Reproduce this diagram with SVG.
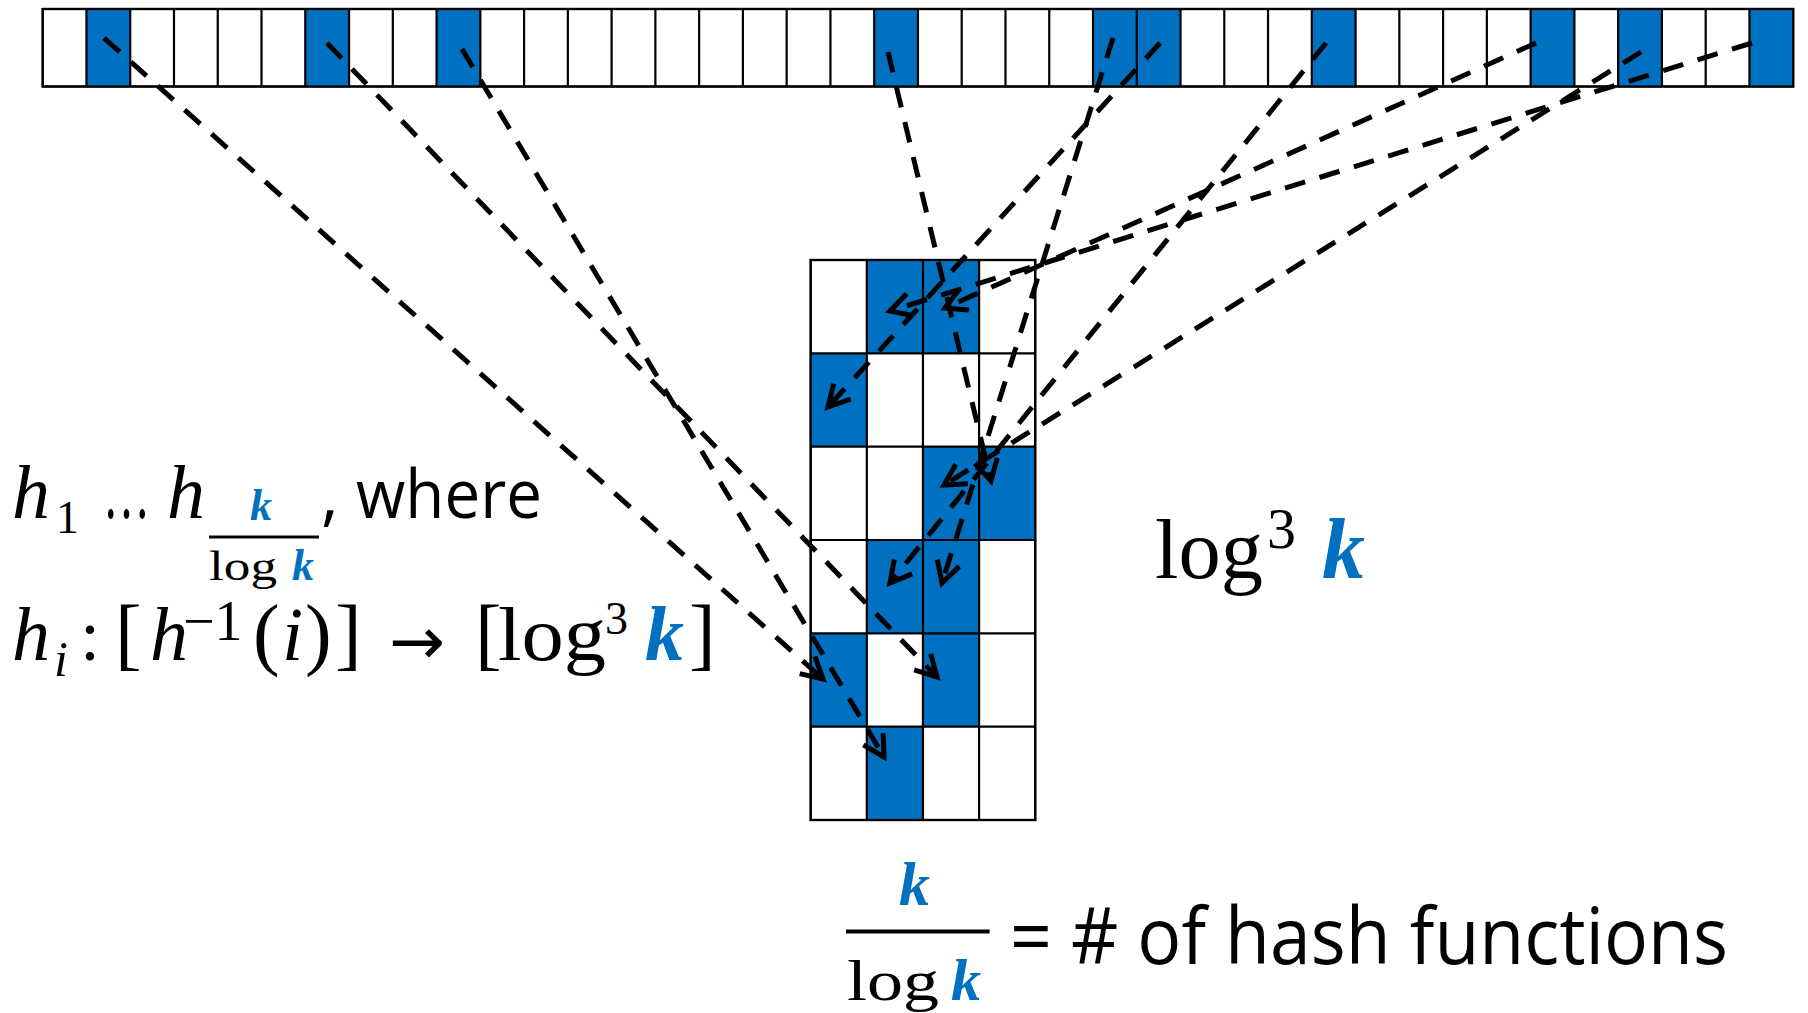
<svg xmlns="http://www.w3.org/2000/svg" width="1808" height="1013" viewBox="0 0 1808 1013">
  <style>
    .cell { fill: #ffffff; stroke: #000000; stroke-width: 2.2; }
    .hit { fill: #0070C0; stroke: none; }
    .rule { fill: none; stroke: #000000; stroke-width: 2.2; }
    .link { fill: none; stroke: #000000; stroke-width: 5; stroke-dasharray: 21 15; marker-end: url(#open); }
    .m { font-family: "Liberation Serif", "DejaVu Serif", serif; fill: #000000; }
    .it { font-style: italic; }
    .kb { fill: #0070C0; font-weight: bold; font-style: italic; }
    .s { font-family: "Open Sans", "Noto Sans", sans-serif; fill: #000000; }
    .arr { font-family: "DejaVu Sans", sans-serif; fill: #000000; }
    .bar { stroke: #000000; }
  </style>
  <defs>
    <marker id="open" markerUnits="userSpaceOnUse" markerWidth="50" markerHeight="50" viewBox="-35 -25 50 50" refX="0" refY="0" orient="auto" overflow="visible">
      <path d="M-21,-11.5 L0,0 L-21,11.5" fill="none" stroke="#000000" stroke-width="5" stroke-dasharray="none" stroke-linejoin="miter"/>
    </marker>
  </defs>
  <rect width="1808" height="1013" fill="#ffffff"/>

  <!-- top bit array: 40 slots, 10 of them set -->
  <g id="bit-array">
    <rect class="cell" x="42.7" y="9" width="1750.5" height="77.5"/>
    <rect class="hit" x="86.46" y="9" width="43.76" height="77.5"/>
    <rect class="hit" x="305.28" y="9" width="43.76" height="77.5"/>
    <rect class="hit" x="436.56" y="9" width="43.76" height="77.5"/>
    <rect class="hit" x="874.19" y="9" width="43.76" height="77.5"/>
    <rect class="hit" x="1093.0" y="9" width="43.76" height="77.5"/>
    <rect class="hit" x="1136.76" y="9" width="43.76" height="77.5"/>
    <rect class="hit" x="1311.81" y="9" width="43.76" height="77.5"/>
    <rect class="hit" x="1530.63" y="9" width="43.76" height="77.5"/>
    <rect class="hit" x="1618.15" y="9" width="43.76" height="77.5"/>
    <rect class="hit" x="1749.44" y="9" width="43.76" height="77.5"/>
    <path class="rule" d="M86.46,9V86.5 M130.23,9V86.5 M173.99,9V86.5 M217.75,9V86.5 M261.51,9V86.5 M305.28,9V86.5 M349.04,9V86.5 M392.8,9V86.5 M436.56,9V86.5 M480.33,9V86.5 M524.09,9V86.5 M567.85,9V86.5 M611.61,9V86.5 M655.38,9V86.5 M699.14,9V86.5 M742.9,9V86.5 M786.66,9V86.5 M830.43,9V86.5 M874.19,9V86.5 M917.95,9V86.5 M961.71,9V86.5 M1005.48,9V86.5 M1049.24,9V86.5 M1093,9V86.5 M1136.76,9V86.5 M1180.53,9V86.5 M1224.29,9V86.5 M1268.05,9V86.5 M1311.81,9V86.5 M1355.58,9V86.5 M1399.34,9V86.5 M1443.1,9V86.5 M1486.86,9V86.5 M1530.63,9V86.5 M1574.39,9V86.5 M1618.15,9V86.5 M1661.91,9V86.5 M1705.68,9V86.5 M1749.44,9V86.5"/>
    <rect class="rule" x="42.7" y="9" width="1750.5" height="77.5"/>
  </g>

  <!-- bucket table: 4 hash functions x 6 slots -->
  <g id="bucket-table">
    <rect class="cell" x="810.7" y="260" width="224.5" height="560"/>
    <rect class="hit" x="866.83" y="260" width="56.12" height="93.33"/>
    <rect class="hit" x="922.95" y="260" width="56.13" height="93.33"/>
    <rect class="hit" x="810.7" y="353.33" width="56.13" height="93.34"/>
    <rect class="hit" x="922.95" y="446.67" width="56.13" height="93.33"/>
    <rect class="hit" x="979.08" y="446.67" width="56.12" height="93.33"/>
    <rect class="hit" x="866.83" y="540" width="56.12" height="93.33"/>
    <rect class="hit" x="922.95" y="540" width="56.13" height="93.33"/>
    <rect class="hit" x="810.7" y="633.33" width="56.13" height="93.34"/>
    <rect class="hit" x="922.95" y="633.33" width="56.13" height="93.34"/>
    <rect class="hit" x="866.83" y="726.67" width="56.12" height="93.33"/>
    <path class="rule" d="M866.83,260V820 M922.95,260V820 M979.08,260V820 M810.7,353.33H1035.2 M810.7,446.67H1035.2 M810.7,540H1035.2 M810.7,633.33H1035.2 M810.7,726.67H1035.2"/>
    <rect class="rule" x="810.7" y="260" width="224.5" height="560"/>
  </g>

  <!-- dashed mappings from set bits to table slots -->
  <g id="connectors">
    <path class="link" d="M104,38 L823,679"/>
    <path class="link" d="M327,43 L937,677"/>
    <path class="link" d="M462,49 L884,757"/>
    <path class="link" d="M888,52 L991,481"/>
    <path class="link" d="M1113,38 L942,583"/>
    <path class="link" d="M1160,43 L828,407"/>
    <path class="link" d="M1326,43 L890,583"/>
    <path class="link" d="M1536,43 L945,308"/>
    <path class="link" d="M1641,52 L944,485"/>
    <path class="link" d="M1752,43 L890,311"/>
  </g>

  <!-- hash family definition -->
  <g id="hash-family">
    <text class="m it" x="12" y="518" font-size="76">h</text>
    <text class="m" x="56" y="533" font-size="46">1</text>
    <text class="m" x="103" y="518" font-size="84" textLength="47" lengthAdjust="spacingAndGlyphs">…</text>
    <text class="m it" x="167" y="518" font-size="76">h</text>
    <line class="bar" x1="209" y1="537" x2="319" y2="537" stroke-width="3"/>
    <text class="m kb" x="250" y="520" font-size="44">k</text>
    <text class="m" x="209" y="580" font-size="43" textLength="68" lengthAdjust="spacingAndGlyphs">log</text>
    <text class="m kb" x="292" y="580" font-size="44">k</text>
    <text class="s" x="321" y="518" font-size="68">,</text>
    <text class="s" x="356" y="518" font-size="68" textLength="186" lengthAdjust="spacingAndGlyphs">where</text>
  </g>

  <g id="hash-signature">
    <text class="m it" x="12" y="660" font-size="76">h</text>
    <text class="m it" x="54" y="676" font-size="50">i</text>
    <text class="m" x="80" y="660" font-size="72">:</text>
    <text class="m" x="115" y="660" font-size="80">[</text>
    <text class="m it" x="150" y="660" font-size="76">h</text>
    <text class="m" x="183" y="640" font-size="56">−1</text>
    <text class="m" x="253" y="660" font-size="80">(</text>
    <text class="m it" x="282" y="660" font-size="76">i</text>
    <text class="m" x="305" y="660" font-size="80">)</text>
    <text class="m" x="335" y="660" font-size="80">]</text>
    <text class="arr" x="389" y="664" font-size="66" textLength="56" lengthAdjust="spacingAndGlyphs">→</text>
    <text class="m" x="475" y="660" font-size="80">[</text>
    <text class="m" x="498" y="660" font-size="76" textLength="108" lengthAdjust="spacingAndGlyphs">log</text>
    <text class="m" x="605" y="634" font-size="46">3</text>
    <text class="m kb" x="645" y="660" font-size="78">k</text>
    <text class="m" x="689" y="660" font-size="80">]</text>
  </g>

  <!-- table height label -->
  <g id="table-height">
    <text class="m" x="1155" y="578" font-size="84" textLength="108" lengthAdjust="spacingAndGlyphs">log</text>
    <text class="m" x="1267" y="548" font-size="58">3</text>
    <text class="m kb" x="1322" y="578" font-size="86">k</text>
  </g>

  <!-- table width label -->
  <g id="table-width">
    <text class="m kb" x="899" y="905" font-size="62">k</text>
    <line class="bar" x1="846" y1="931.5" x2="989.6" y2="931.5" stroke-width="4"/>
    <text class="m" x="847" y="1000" font-size="56" textLength="92" lengthAdjust="spacingAndGlyphs">log</text>
    <text class="m kb" x="951" y="1000" font-size="60">k</text>
    <text class="s" x="1010" y="964" font-size="78" textLength="718" lengthAdjust="spacingAndGlyphs">= # of hash functions</text>
  </g>
</svg>
